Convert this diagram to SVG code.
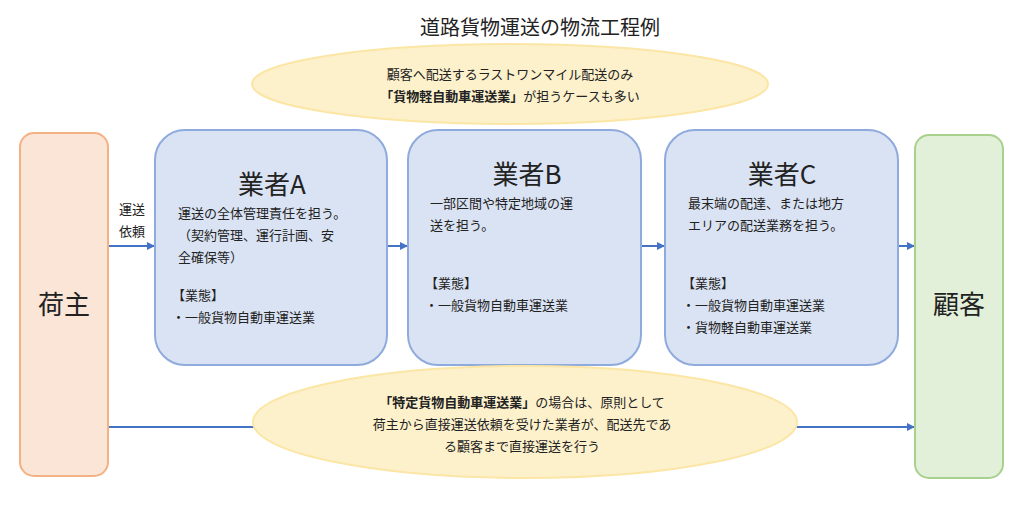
<svg xmlns="http://www.w3.org/2000/svg" width="1020" height="508" viewBox="0 0 1020 508">
<defs>
<marker id="ar" markerWidth="8" markerHeight="8" refX="7" refY="4" orient="auto" markerUnits="userSpaceOnUse"><path d="M0,0 L8,4 L0,8 z" fill="#4472c4"/></marker>
<style>
text{font-family:"Noto Sans CJK JP","Noto Sans",sans-serif;fill:#222}
.t{font-size:13px}
.h{font-size:26px}
.b{font-weight:bold}
.box{fill:#dae3f3;stroke:#8faadc;stroke-width:2}
.ell{fill:#fdf1cc;stroke:#fbe6a6;stroke-width:2}
.ln{stroke:#4472c4;stroke-width:2;fill:none}
</style>
</defs>
<rect width="1020" height="508" fill="#fff"/>
<text x="540" y="35" font-size="20" text-anchor="middle">道路貨物運送の物流工程例</text>
<g id="note-top"><ellipse class="ell" cx="510" cy="84" rx="258" ry="40"/>
<text class="t" x="510" y="79" text-anchor="middle">顧客へ配送するラストワンマイル配送のみ</text>
<text class="t" x="510" y="101" text-anchor="middle"><tspan class="b">「貨物軽自動車運送業」</tspan>が担うケースも多い</text></g>
<g id="connectors">
<line class="ln" x1="108" y1="246" x2="154" y2="246" marker-end="url(#ar)"/>
<line class="ln" x1="387" y1="246" x2="407" y2="246" marker-end="url(#ar)"/>
<line class="ln" x1="641" y1="246" x2="664" y2="246" marker-end="url(#ar)"/>
<line class="ln" x1="898" y1="246" x2="914" y2="246" marker-end="url(#ar)"/>
<line class="ln" x1="108" y1="427" x2="914" y2="427" marker-end="url(#ar)"/>
<text class="t" x="132" y="214" text-anchor="middle">運送</text>
<text class="t" x="132" y="236" text-anchor="middle">依頼</text>
</g>
<g id="shipper"><rect x="20" y="133" width="88" height="343" rx="14" fill="#fbe5d6" stroke="#f4b183" stroke-width="2"/>
<text class="h" x="64" y="314" text-anchor="middle">荷主</text></g>
<g id="customer"><rect x="915" y="135" width="88" height="343" rx="14" fill="#e2f0d9" stroke="#a9d18e" stroke-width="2"/>
<text class="h" x="959" y="314" text-anchor="middle">顧客</text></g>
<g id="A"><rect class="box" x="155" y="130" width="232" height="235" rx="30"/>
<text class="h" x="272" y="194" text-anchor="middle">業者A</text>
<text class="t" x="178" y="218">運送の全体管理責任を担う。</text>
<text class="t" x="178" y="240">（契約管理、運行計画、安</text>
<text class="t" x="178" y="262">全確保等）</text>
<text class="t" x="172" y="300">【業態】</text>
<text class="t" x="172" y="322">・一般貨物自動車運送業</text></g>
<g id="B"><rect class="box" x="408" y="130" width="233" height="235" rx="30"/>
<text class="h" x="527" y="184" text-anchor="middle">業者B</text>
<text class="t" x="430" y="208">一部区間や特定地域の運</text>
<text class="t" x="430" y="230">送を担う。</text>
<text class="t" x="425" y="288">【業態】</text>
<text class="t" x="425" y="310">・一般貨物自動車運送業</text></g>
<g id="C"><rect class="box" x="665" y="130" width="233" height="235" rx="30"/>
<text class="h" x="782" y="184" text-anchor="middle">業者C</text>
<text class="t" x="688" y="208">最末端の配達、または地方</text>
<text class="t" x="688" y="230">エリアの配送業務を担う。</text>
<text class="t" x="682" y="288">【業態】</text>
<text class="t" x="682" y="310">・一般貨物自動車運送業</text>
<text class="t" x="682" y="332">・貨物軽自動車運送業</text></g>
<g id="note-bottom"><ellipse class="ell" cx="525" cy="422" rx="272" ry="56"/>
<text class="t" x="522" y="407" text-anchor="middle"><tspan class="b">「特定貨物自動車運送業」</tspan>の場合は、原則として</text>
<text class="t" x="522" y="429" text-anchor="middle">荷主から直接運送依頼を受けた業者が、配送先であ</text>
<text class="t" x="522" y="451" text-anchor="middle">る顧客まで直接運送を行う</text></g>
</svg>
